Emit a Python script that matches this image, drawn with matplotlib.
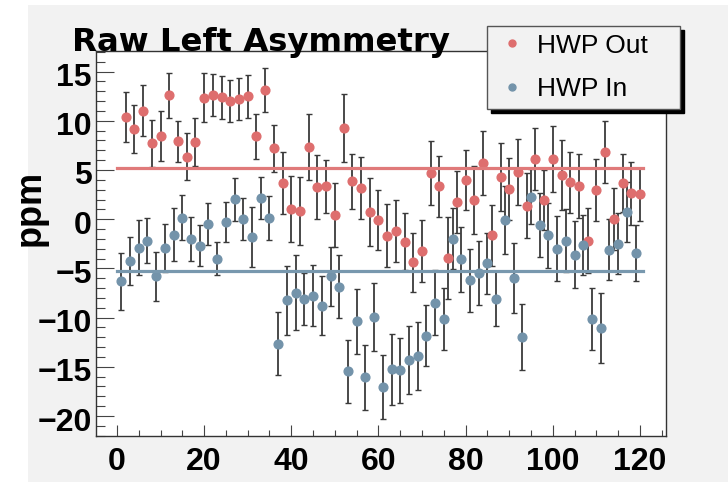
import numpy as np
import matplotlib
matplotlib.use("Agg")
import matplotlib.pyplot as plt
import matplotlib.transforms as mtransforms
from matplotlib.lines import Line2D
from matplotlib.patches import Rectangle
from matplotlib.ticker import MultipleLocator

# ---------------- data ----------------
out_runs = list(range(2, 121, 2))
out_vals = [10.39, 9.17, 11.03, 7.71, 8.42, 12.59, 7.92, 6.36, 7.85, 12.35,
            12.59, 12.38, 11.98, 12.18, 12.49, 8.42, 13.13, 7.21, 3.69, 1.05,
            0.84, 7.31, 3.25, 3.35, 0.41, 9.27, 3.86, 3.15, 0.74, -0.10,
            -1.66, -1.22, -2.27, -4.37, -3.22, 4.67, 3.35, -3.93, 1.76, 3.99,
            1.99, 5.71, -1.63, 4.26, 3.05, 4.80, 1.38, 6.12, 1.99, 6.12,
            4.50, 3.75, 3.35, -2.17, 2.94, 6.80, 0.00, 3.69, 2.64, 2.54]
out_errs = [2.55, 2.42, 2.59, 2.37, 2.54, 2.27, 2.06, 2.37, 2.42, 2.47,
            2.15, 2.20, 2.12, 2.15, 2.20, 2.28, 2.27, 2.37, 3.16, 3.35,
            3.42, 3.33, 3.27, 2.71, 3.25, 3.42, 2.79, 3.13, 3.42, 3.08,
            3.23, 3.18, 2.91, 3.00, 3.15, 3.27, 3.08, 4.20, 3.18, 3.06,
            3.45, 3.25, 3.10, 3.47, 3.18, 3.38, 3.27, 3.15, 3.05, 3.33,
            3.59, 3.08, 3.25, 3.30, 3.16, 3.16, 3.13, 2.93, 3.18, 2.69]

in_runs = list(range(1, 120, 2))
in_vals = [-6.33, -4.26, -2.91, -2.17, -5.82, -2.91, -1.56, 0.13, -1.97, -2.68,
           -0.51, -4.03, -0.30, 2.03, 0.00, -1.83, 2.13, 0.13, -12.66, -8.26,
           -7.45, -8.09, -7.79, -8.80, -5.79, -6.84, -15.47, -10.39, -16.08, -9.95,
           -17.03, -15.27, -15.33, -14.32, -13.88, -11.82, -8.50, -10.12, -1.97, -4.06,
           -6.23, -5.48, -4.47, -8.09, -0.10, -5.99, -11.95, 2.30, -0.61, -1.63,
           -2.98, -2.17, -3.59, -2.58, -10.15, -11.07, -3.09, -2.48, 0.74, -3.42]
in_errs = [2.91, 2.42, 2.79, 2.25, 2.45, 2.45, 2.66, 2.28, 2.23, 2.12,
           2.12, 1.68, 2.03, 2.20, 2.12, 3.03, 2.13, 2.23, 3.20, 3.49,
           3.84, 2.66, 3.10, 2.98, 3.00, 3.21, 3.16, 3.28, 3.33, 3.42,
           3.28, 3.62, 3.30, 3.43, 3.43, 3.08, 3.30, 3.16, 3.13, 3.30,
           3.21, 3.25, 3.11, 2.79, 3.45, 3.55, 3.38, 2.83, 3.28, 3.30,
           3.28, 3.21, 3.38, 3.05, 3.16, 3.59, 3.11, 3.11, 3.01, 2.86]

fit_range = [0, 120.7]
out_fit = 5.18
in_fit = -5.28

labels = ["HWP Out", "HWP In"]
title = "Raw Left Asymmetry"
ylabel = "ppm"

# ---------------- style ----------------
RED = "#de6e6e"
BLUE = "#7393aa"
RED_LINE = "#e07a7a"
BLUE_LINE = "#7898ae"
W, H = 728, 482

fig = plt.figure(figsize=(W / 100, H / 100), dpi=100, facecolor="white")
# grey canvas (with thin white margin at left/top like the reference)
fig.add_artist(Rectangle((28 / W, 0), 1 - 28 / W, 1 - 5 / H,
                         transform=fig.transFigure, facecolor="#f2f2f2",
                         edgecolor="none", zorder=0))

ax = fig.add_axes([96 / W, 1 - 435.7 / H, (665.7 - 96) / W, (435.7 - 50.7) / H])
ax.set_facecolor("white")

eb_kw = dict(fmt="o", ms=6.3, ecolor="#3a3a3a", elinewidth=1.3,
             capsize=2.3, capthick=1.0, zorder=3)
ax.errorbar(out_runs, out_vals, yerr=out_errs, color=RED, mec=RED, **eb_kw)
ax.errorbar(in_runs, in_vals, yerr=in_errs, color=BLUE, mec=BLUE, **eb_kw)

ax.plot(fit_range, [out_fit, out_fit], color=RED_LINE, lw=2.3, zorder=4)
ax.plot(fit_range, [in_fit, in_fit], color=BLUE_LINE, lw=2.3, zorder=4)

ax.set_xlim(-4.8, 125.9)
ax.set_ylim(-22.0, 17.12)

ax.xaxis.set_major_locator(MultipleLocator(20))
ax.xaxis.set_minor_locator(MultipleLocator(5))
ax.yaxis.set_major_locator(MultipleLocator(5))
ax.yaxis.set_minor_locator(MultipleLocator(1))

ax.tick_params(axis="y", which="major", direction="in", length=13, width=0.8,
               color="#444444", pad=3, labelsize=23)
ax.tick_params(axis="y", which="minor", direction="in", length=6.5, width=0.8,
               color="#444444")
ax.tick_params(axis="x", which="major", direction="in", length=8, width=0.8,
               color="#444444", pad=8, labelsize=23)
ax.tick_params(axis="x", which="minor", direction="in", length=4, width=0.8,
               color="#444444")
for lab in ax.get_xticklabels() + ax.get_yticklabels():
    lab.set_fontfamily("Liberation Sans")
    lab.set_fontweight("bold")
shift = mtransforms.ScaledTranslation(0, -3 / 100, fig.dpi_scale_trans)
for lab in ax.get_yticklabels():
    lab.set_transform(lab.get_transform() + shift)

for s in ax.spines.values():
    s.set_color("#333333")
    s.set_linewidth(1.0)

ax.set_ylabel(ylabel, fontsize=26, fontweight="bold", family="Liberation Sans",
              va="center")
ax.yaxis.set_label_coords((30 - 96) / (665.7 - 96), (435.7 - 207.5) / (435.7 - 50.7))

fig.text(71.7 / W, 1 - 50.7 / H, title, fontsize=23.3, fontweight="bold",
         family="DejaVu Sans", ha="left", va="baseline", zorder=10)

# legend
handles = [Line2D([], [], ls="none", marker="o", ms=5, color=RED),
           Line2D([], [], ls="none", marker="o", ms=5, color=BLUE)]
leg = ax.legend(handles, labels, loc="upper left",
                bbox_to_anchor=(487.3 / W, 1 - 25.7 / H - 0.01, (680 - 487.3) / W, 0.01),
                bbox_transform=fig.transFigure, mode="expand",
                prop={"family": "Liberation Sans", "size": 19},
                frameon=True, fancybox=False, borderpad=0.3, borderaxespad=0,
                labelspacing=0.75, handlelength=1.3, handletextpad=0.3,
                shadow={"ox": 3, "oy": -3, "color": "black", "alpha": 1})
leg.get_frame().set_facecolor("#f2f2f2")
leg.get_frame().set_edgecolor("#555555")
leg.get_frame().set_linewidth(1.0)
leg.get_frame().set_alpha(1)
leg.set_zorder(20)

fig.savefig("out.png", dpi=100, facecolor=fig.get_facecolor())
